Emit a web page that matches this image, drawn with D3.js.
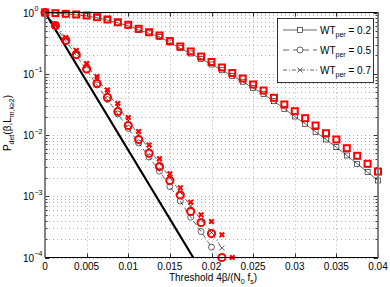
<!DOCTYPE html>
<html><head><meta charset="utf-8">
<script src="https://cdn.jsdelivr.net/npm/d3@7/dist/d3.min.js"></script>
<style>body{margin:0;background:#fff}svg{display:block;font-family:"Liberation Sans",Arial,sans-serif}</style>
</head><body><svg id="c" width="390" height="287"></svg>
<script>
const xGrid = [0,0.00125,0.0025,0.00375,0.005,0.00625,0.0075,0.00875,0.01,0.01125,0.0125,0.01375,0.015,0.01625,0.0175,0.01875,0.02,0.02125,0.0225,0.02375,0.025,0.02625,0.0275,0.02875,0.03,0.03125,0.0325,0.03375,0.035,0.03625,0.0375,0.03875,0.04];
const theoryX = [0,0.00445,0.0089,0.01335,0.0178];
const theoryY = [1,0.1,0.01,0.001,0.0001];
const sim02 = [1,0.970,0.945,0.917,0.880,0.822,0.751,0.676,0.609,0.522,0.458,0.401,0.324,0.261,0.214,0.1754,0.1416,0.1138,0.0919,0.0742,0.0585,0.0467,0.0356,0.0268,0.02005,0.01524,0.01128,0.00844,0.00632,0.00463,0.00339,0.00247,0.00181];
const ana02 = [1,0.974,0.952,0.928,0.893,0.838,0.769,0.694,0.630,0.542,0.477,0.421,0.342,0.279,0.231,0.191,0.1555,0.1265,0.1028,0.0836,0.0668,0.0533,0.0405,0.0315,0.02446,0.0188,0.01429,0.0107,0.00844,0.00609,0.00458,0.00339,0.00253];
const sim05 = [1,0.602,0.340,0.1986,0.1151,0.0655,0.0380,0.0220,0.01277,0.0074,0.00437,0.002565,0.001443,0.000836,0.000455,0.000266,0.0001473];
const ana05 = [1,0.613,0.349,0.206,0.1196,0.0693,0.041,0.0242,0.01429,0.00844,0.00505,0.00306,0.00181,0.001048,0.000564,0.000373,0.000246,0.0001];
const sim07 = [1,0.625,0.380,0.231,0.139,0.0836,0.0494,0.0292,0.01725,0.0100,0.00591,0.00349,0.00202,0.001173,0.000693,0.000417,0.000256,0.0001429];
const ana07 = [1,0.637,0.391,0.240,0.147,0.0902,0.0543,0.0327,0.0193,0.01141,0.00687,0.00409,0.00232,0.001374,0.000799,0.000498,0.000387,0.000235,0.0001];
const xTicks = [0,0.005,0.01,0.015,0.02,0.025,0.03,0.035,0.04];
const xTickLabels = ["0","0.005","0.01","0.015","0.02","0.025","0.03","0.035","0.04"];
const yTicks = [1,0.1,0.01,0.001,0.0001];
const yTickExp = ["0","\u22121","\u22122","\u22123","\u22124"];
const legendLabels = ["0.2","0.5","0.7"];

const svg = d3.select("#c");
const L = 45, R = 378, T = 12.5, B = 257.5;
const x = d3.scaleLinear().domain([0,0.04]).range([L,R]);
const y = d3.scaleLog().domain([1e-4,1]).range([B,T]);

// grid
const g = svg.append("g");
const minor = [];
for (let e=-4;e<0;e++) for (let m=1;m<10;m++) minor.push(m*Math.pow(10,e));
minor.push(1);
g.selectAll(".hg").data(minor).join("line")
  .attr("x1",L).attr("x2",R).attr("y1",d=>Math.round(y(d))+0.5).attr("y2",d=>Math.round(y(d))+0.5)
  .attr("stroke","#999").attr("stroke-width",0.8).attr("stroke-dasharray","1,3");
g.selectAll(".vg").data(xTicks).join("line")
  .attr("y1",T).attr("y2",B).attr("x1",d=>Math.round(x(d))+0.5).attr("x2",d=>Math.round(x(d))+0.5)
  .attr("stroke","#999").attr("stroke-width",0.8).attr("stroke-dasharray","1,3");

// ticks inward
const tk = svg.append("g").attr("stroke","#000").attr("stroke-width",0.8);
xTicks.forEach(v=>{
  const px = Math.round(x(v))+0.5;
  tk.append("line").attr("x1",px).attr("x2",px).attr("y1",B).attr("y2",B-4);
  tk.append("line").attr("x1",px).attr("x2",px).attr("y1",T).attr("y2",T+4);
});
minor.forEach(v=>{
  const py = Math.round(y(v))+0.5;
  const major = yTicks.indexOf(v)>=0;
  const len = major?4:2.5;
  tk.append("line").attr("x1",L).attr("x2",L+len).attr("y1",py).attr("y2",py);
  tk.append("line").attr("x1",R).attr("x2",R-len).attr("y1",py).attr("y2",py);
});

// data lines
const line = d3.line().x(d=>x(d[0])).y(d=>y(d[1]));
const zip = (xs,ys)=>ys.map((v,i)=>[xs[i],v]);
const dat = svg.append("g");
dat.append("path").datum(zip(theoryX,theoryY)).attr("d",line).attr("fill","none").attr("stroke","#000").attr("stroke-width",2.2);
dat.append("path").datum(zip(xGrid,sim02)).attr("d",line).attr("fill","none").attr("stroke","#000").attr("stroke-width",0.6);
dat.append("path").datum(zip(xGrid,sim05)).attr("d",line).attr("fill","none").attr("stroke","#000").attr("stroke-width",0.6).attr("stroke-dasharray","5,3");
dat.append("path").datum(zip(xGrid,sim07)).attr("d",line).attr("fill","none").attr("stroke","#000").attr("stroke-width",0.6).attr("stroke-dasharray","4,2,1,2");

function sq(gg,cx,cy,s,col,w){gg.append("rect").attr("x",cx-s/2).attr("y",cy-s/2).attr("width",s).attr("height",s).attr("fill","none").attr("stroke",col).attr("stroke-width",w);}
function ci(gg,cx,cy,r,col,w){gg.append("circle").attr("cx",cx).attr("cy",cy).attr("r",r).attr("fill","none").attr("stroke",col).attr("stroke-width",w);}
function xm(gg,cx,cy,s,col,w){gg.append("path").attr("d",`M${cx-s},${cy-s}L${cx+s},${cy+s}M${cx-s},${cy+s}L${cx+s},${cy-s}`).attr("fill","none").attr("stroke",col).attr("stroke-width",w);}

const mk = svg.append("g");
sim02.forEach((v,i)=>sq(mk,x(xGrid[i]),y(v),5,"#000",0.6));
sim05.forEach((v,i)=>ci(mk,x(xGrid[i]),y(v),3,"#000",0.6));
sim07.forEach((v,i)=>xm(mk,x(xGrid[i]),y(v),2.5,"#000",0.6));
ana02.forEach((v,i)=>sq(mk,x(xGrid[i]),y(v),6,"#f00",2));
ana05.forEach((v,i)=>ci(mk,x(xGrid[i]),y(v),3.6,"#f00",2));
ana07.forEach((v,i)=>xm(mk,x(xGrid[i]),y(v),2.3,"#f00",2));

// box
svg.append("line").attr("x1",L).attr("x2",R).attr("y1",T).attr("y2",T).attr("stroke","#000").attr("stroke-width",1);
svg.append("line").attr("x1",L).attr("x2",R).attr("y1",B).attr("y2",B).attr("stroke","#000").attr("stroke-width",1);
svg.append("line").attr("x1",L).attr("x2",L).attr("y1",T).attr("y2",B).attr("stroke","#777").attr("stroke-width",1.8);
svg.append("line").attr("x1",R).attr("x2",R).attr("y1",T).attr("y2",B).attr("stroke","#777").attr("stroke-width",1.8);

// tick labels
xTicks.forEach((v,i)=>{
  svg.append("text").attr("x",x(v)).attr("y",270).attr("text-anchor","middle").attr("font-size",10).attr("fill","#000").text(xTickLabels[i]);
});
yTicks.forEach((v,i)=>{
  svg.append("text").attr("x",34).attr("y",y(v)+4).attr("text-anchor","end").attr("font-size",10).attr("fill","#000").text("10");
  svg.append("text").attr("x",34.5).attr("y",y(v)-1.5).attr("font-size",7).attr("fill","#000").text(yTickExp[i]);
});

// axis labels
const xl = svg.append("text").attr("x",213).attr("y",281).attr("text-anchor","middle").attr("font-size",10).attr("fill","#000");
xl.append("tspan").text("Threshold 4\u03B2/(N");
xl.append("tspan").attr("font-size",7).attr("dy",2.5).text("0");
xl.append("tspan").attr("dy",-2.5).text(" f");
xl.append("tspan").attr("font-size",7).attr("dy",2.5).text("s");
xl.append("tspan").attr("dy",-2.5).text(")");

const yl = svg.append("text").attr("transform","translate(11,123) rotate(-90)").attr("text-anchor","middle").attr("font-size",10).attr("fill","#000");
yl.append("tspan").text("P");
yl.append("tspan").attr("font-size",7).attr("dy",2.5).text("det");
yl.append("tspan").attr("dy",-2.5).text("(\u03B2,L");
yl.append("tspan").attr("font-size",7).attr("dy",2.5).text("m,k\u22652");
yl.append("tspan").attr("dy",-2.5).text(")");

// legend
const lg = svg.append("g");
lg.append("rect").attr("x",277.5).attr("y",18.5).attr("width",96).attr("height",64).attr("fill","#fff").attr("stroke","#000").attr("stroke-width",0.8);
const dashes = [null,"6,4","4,2,1,2"];
legendLabels.forEach((lab,i)=>{
  const cy = 30+i*20;
  const ln = lg.append("line").attr("x1",283).attr("x2",317).attr("y1",cy).attr("y2",cy).attr("stroke","#000").attr("stroke-width",0.6);
  if (dashes[i]) ln.attr("stroke-dasharray",dashes[i]);
  if (i===0) { lg.append("rect").attr("x",297.5).attr("y",cy-2.5).attr("width",5).attr("height",5).attr("fill","#fff").attr("stroke","#000").attr("stroke-width",0.6); }
  if (i===1) { lg.append("circle").attr("cx",300).attr("cy",cy).attr("r",3).attr("fill","#fff").attr("stroke","#000").attr("stroke-width",0.6); }
  if (i===2) { xm(lg,300,cy,2.5,"#000",0.6); }
  const t = lg.append("text").attr("x",320).attr("y",cy+3.5).attr("font-size",10).attr("fill","#000");
  t.append("tspan").text("WT");
  t.append("tspan").attr("font-size",7).attr("dy",3).text("per");
  t.append("tspan").attr("dy",-3).text(" = "+lab);
});
</script></body></html>
